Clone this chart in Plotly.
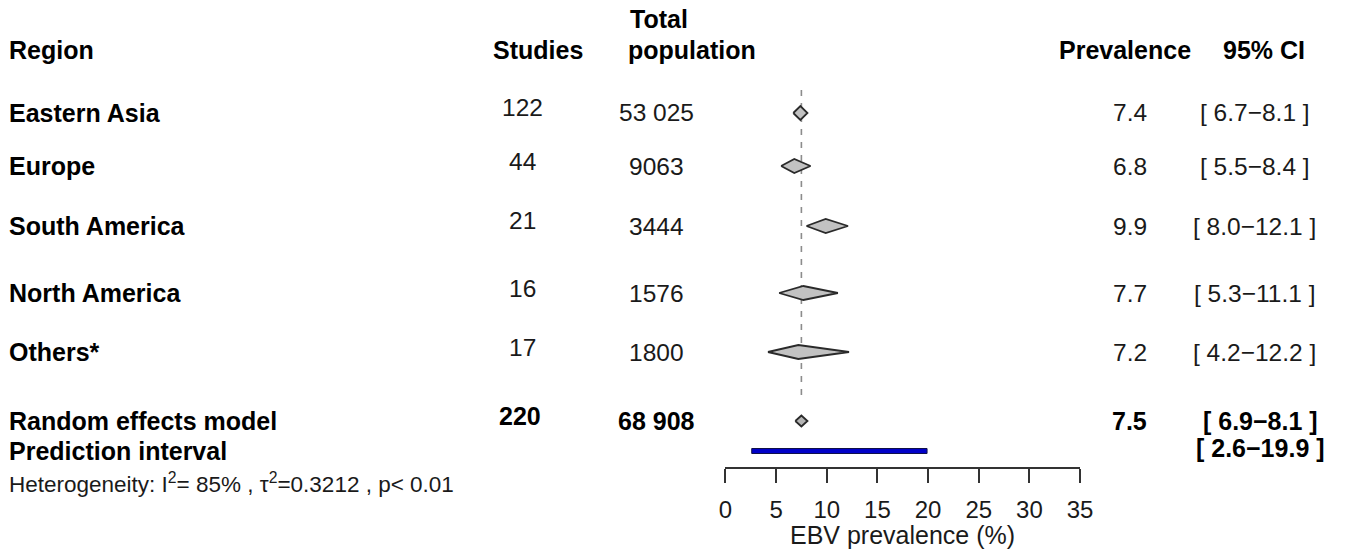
import plotly.graph_objects as go

# ---- data ----
regions = ["Eastern Asia", "Europe", "South America", "North America", "Others*"]
studies = [122, 44, 21, 16, 17]
population = [53025, 9063, 3444, 1576, 1800]
prevalence = [7.4, 6.8, 9.9, 7.7, 7.2]
ci_low = [6.7, 5.5, 8.0, 5.3, 4.2]
ci_high = [8.1, 8.4, 12.1, 11.1, 12.2]

overall_label = "Random effects model"
overall_studies = 220
overall_population = 68908
overall_est = 7.5
overall_low = 6.9
overall_high = 8.1

pi_label = "Prediction interval"
pi_low = 2.6
pi_high = 19.9

i2 = 85
tau2 = 0.3212
p_text = "p< 0.01"

tick_values = [0, 5, 10, 15, 20, 25, 30, 35]
axis_title = "EBV prevalence (%)"

# ---- layout constants (target pixels in the 1347x560 picture) ----
W, H = 1347, 560
row_y = [113, 166, 226, 293, 352]
sum_y = 421
pi_y = 451
axis_y = 467
ax_x0, ax_x1 = 725, 1080

# empirical horizontal correction observed in the photographed page
X_OFF, X_SCALE = 6.0, 0.986

FONT = "Liberation Sans, Arial, sans-serif"
TXT = "#1a1a1a"
BOLD = 25
NORM = 24.5


def fmt_pop(n):
    s = f"{n:,}".replace(",", " ")
    return s if n >= 10000 else str(n)


def px(x):
    return ((x - X_OFF) / X_SCALE) / W


def py(y):
    return 1 - y / H


fig = go.Figure()

# reference dashed line at overall estimate
fig.add_trace(go.Scatter(x=[overall_est, overall_est], y=[90, 402], mode="lines",
                         line=dict(color="#8c8c8c", width=1.6, dash="6px,7px"),
                         hoverinfo="skip", showlegend=False))

# study-group diamonds
h = 7
for est, lo, hi, y in zip(prevalence, ci_low, ci_high, row_y):
    fig.add_trace(go.Scatter(x=[lo, est, hi, est, lo], y=[y, y - h, y, y + h, y],
                             mode="lines", fill="toself", fillcolor="#c2c2c2",
                             line=dict(color="#2a2a2a", width=1.8),
                             hoverinfo="skip", showlegend=False))

# overall diamond
h2 = 5.5
fig.add_trace(go.Scatter(x=[overall_low, overall_est, overall_high, overall_est, overall_low],
                         y=[sum_y, sum_y - h2, sum_y, sum_y + h2, sum_y],
                         mode="lines", fill="toself", fillcolor="#b5b5b5",
                         line=dict(color="#2a2a2a", width=1.8),
                         hoverinfo="skip", showlegend=False))

# prediction interval bar
hb = 2.5
fig.add_trace(go.Scatter(x=[pi_low, pi_high, pi_high, pi_low, pi_low],
                         y=[pi_y - hb, pi_y - hb, pi_y + hb, pi_y + hb, pi_y - hb],
                         mode="lines", fill="toself", fillcolor="#0000c8",
                         line=dict(color="#10104a", width=1),
                         hoverinfo="skip", showlegend=False))

ann = []


def text(x, y, t, anchor="left", bold=False, size=NORM):
    ann.append(dict(x=px(x), y=py(y), xref="paper", yref="paper", text=f"<b>{t}</b>" if bold else t,
                    showarrow=False, xanchor=anchor, yanchor="middle",
                    font=dict(family=FONT, size=size, color="black" if bold else TXT)))


# headers
text(6, 50, "Region", bold=True, size=BOLD)
text(537, 50, "Studies", "center", bold=True, size=BOLD)
text(628, 19, "Total", bold=True, size=BOLD)
text(626, 50, "population", bold=True, size=BOLD)
text(1125, 50, "Prevalence", "center", bold=True, size=BOLD)
text(1264, 50, "95% CI", "center", bold=True, size=BOLD)

# rows
for r, s, pop, est, lo, hi, y in zip(regions, studies, population, prevalence, ci_low, ci_high, row_y):
    text(6, y, r, bold=True, size=BOLD)
    text(522, y - 5, str(s), "center")
    text(656, y, fmt_pop(pop), "center")
    text(1149, y, f"{est:.1f}", "right")
    text(1255, y, f"[ {lo:.1f}\u2212{hi:.1f} ]", "center")

# summary
text(6, sum_y, overall_label, bold=True, size=BOLD)
text(519, sum_y - 5, str(overall_studies), "center", bold=True, size=BOLD)
text(656, sum_y, fmt_pop(overall_population), "center", bold=True, size=BOLD)
text(1149, sum_y, f"{overall_est:.1f}", "right", bold=True, size=BOLD)
text(1261, sum_y, f"[ {overall_low:.1f}\u2212{overall_high:.1f} ]", "center", bold=True, size=BOLD)
text(6, pi_y, pi_label, bold=True, size=BOLD)
text(1261, pi_y - 3, f"[ {pi_low:.1f}\u2212{pi_high:.1f} ]", "center", bold=True, size=BOLD)

text(6, 483, f"Heterogeneity: I<sup>2</sup>= {i2}% , \u03c4<sup>2</sup>={tau2} , {p_text}", size=22.5)

# axis title
text((ax_x0 + ax_x1) / 2, 535, axis_title, "center", size=25)

fig.update_layout(
    width=W, height=H,
    margin=dict(l=0, r=0, t=0, b=0),
    paper_bgcolor="white", plot_bgcolor="white",
    annotations=ann,
    xaxis=dict(domain=[px(ax_x0), px(ax_x1)], range=[0, 35], tickvals=tick_values,
               ticktext=[str(v) for v in tick_values],
               showline=True, linecolor="#333333", linewidth=1.5,
               ticks="outside", ticklen=14, tickwidth=1.5, tickcolor="#333333",
               tickfont=dict(family=FONT, size=24, color=TXT),
               ticklabelstandoff=6,
               showgrid=False, zeroline=False, fixedrange=True),
    yaxis=dict(domain=[py(axis_y), 1], range=[axis_y, 0], visible=False,
               showgrid=False, zeroline=False, fixedrange=True),
    showlegend=False,
)

# remove the default page margin so the figure fills the 1347x560 window exactly
fig.write_html("out.html", config={"displayModeBar": False},
               post_script="document.body.style.margin='0';document.body.style.overflow='hidden';")
